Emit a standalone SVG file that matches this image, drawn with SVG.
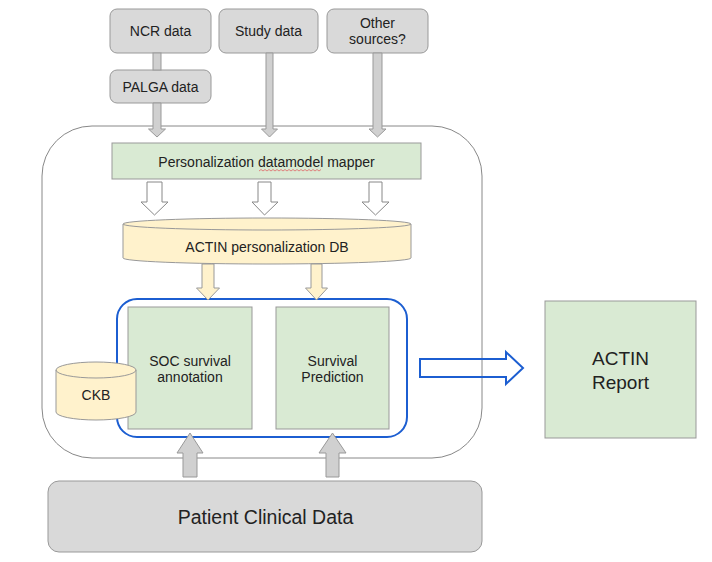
<svg xmlns="http://www.w3.org/2000/svg" width="712" height="562" viewBox="0 0 712 562">
<style>
text{font-family:"Liberation Sans",Arial,sans-serif;fill:#222;text-anchor:middle}
.s{font-size:14px}
.l{font-size:19.5px}
.src{fill:#d9d9d9;stroke:#999;stroke-width:1}
.grn{fill:#d9ead3;stroke:#999;stroke-width:1}
.db{fill:#fff2cc;stroke:#999;stroke-width:1}
.garr{fill:#d0d0d0;stroke:#999;stroke-width:1}
.warr{fill:#fff;stroke:#888;stroke-width:1}
.yarr{fill:#fff2cc;stroke:#999;stroke-width:1}
</style>
<rect width="712" height="562" fill="#fff"/>
<g id="platform"><rect x="42" y="126" width="440" height="332" rx="50" ry="50" fill="none" stroke="#888" stroke-width="1"/></g>
<g id="ncr"><rect class="src" x="110" y="9" width="101" height="44" rx="7"/><text class="s" x="160.5" y="36">NCR data</text></g>
<g id="study"><rect class="src" x="219" y="9" width="99" height="44" rx="7"/><text class="s" x="268.5" y="36">Study data</text></g>
<g id="other"><rect class="src" x="327" y="9" width="101" height="44" rx="7"/><text class="s" x="377.5" y="28">Other</text><text class="s" x="377.5" y="44">sources?</text></g>
<g id="palga"><rect class="src" x="110" y="70" width="101" height="33" rx="7"/><text class="s" x="160.5" y="91.5">PALGA data</text></g>
<g id="mapper"><rect class="grn" x="112" y="143" width="309" height="36"/><text class="s" x="266.5" y="166.5">Personalization datamodel mapper</text>
<path d="M259 171 l2 -1.5 l2 1.5 l2 -1.5 l2 1.5 l2 -1.5 l2 1.5 l2 -1.5 l2 1.5 l2 -1.5 l2 1.5 l2 -1.5 l2 1.5 l2 -1.5 l2 1.5 l2 -1.5 l2 1.5 l2 -1.5 l2 1.5 l2 -1.5 l2 1.5 l2 -1.5 l2 1.5 l2 -1.5 l2 1.5 l2 -1.5 l2 1.5 l2 -1.5 l2 1.5 l2 -1.5 l2 1.5 l2 -1.5" fill="none" stroke="#e06666" stroke-width="0.8"/></g>
<g id="actindb"><path class="db" d="M123 224 A144 6 0 0 1 411 224 L411 258 A144 6 0 0 1 123 258 Z"/><path d="M123 224 A144 6 0 0 0 411 224" fill="none" stroke="#999"/><text class="s" x="267" y="252">ACTIN personalization DB</text></g>
<g id="module"><rect x="117" y="299" width="290" height="138" rx="20" fill="none" stroke="#1c5ed1" stroke-width="2"/></g>
<g id="soc"><rect class="grn" x="128" y="307" width="124" height="122"/><text class="s" x="190" y="366">SOC survival</text><text class="s" x="190" y="382">annotation</text></g>
<g id="surv"><rect class="grn" x="276" y="307" width="113" height="122"/><text class="s" x="332.5" y="366">Survival</text><text class="s" x="332.5" y="382">Prediction</text></g>
<g id="ckb"><path class="db" d="M56 370 A40 8 0 0 1 136 370 L136 412 A40 8 0 0 1 56 412 Z"/><path d="M56 370 A40 8 0 0 0 136 370" fill="none" stroke="#999"/><text class="s" x="96" y="400">CKB</text></g>
<g id="report"><rect class="grn" x="545" y="301" width="151" height="137"/><text x="620.5" y="365" style="font-size:19px">ACTIN</text><text x="620.5" y="389" style="font-size:19px">Report</text></g>
<g id="patient"><rect class="src" x="48" y="481" width="434" height="71" rx="11"/><text class="l" x="265.5" y="524">Patient Clinical Data</text></g>
<g id="connectors">
<rect class="garr" x="153" y="53" width="8" height="17"/>
<polygon class="garr" points="153,103 161,103 161,129 165.5,129 157,137 148.5,129 153,129"/>
<polygon class="garr" points="266,53 273,53 273,129 277.5,129 269.5,137 261.5,129 266,129"/>
<polygon class="garr" points="373,53 382,53 382,129 386,129 377.5,137 369,129 373,129"/>
<polygon class="warr" points="147,182 162,182 162,202 168,202 154.5,215 141,202 147,202"/>
<polygon class="warr" points="258,182 271,182 271,202 278,202 264.5,215 252,202 258,202"/>
<polygon class="warr" points="369,182 382,182 382,202 389,202 375.5,215 362,202 369,202"/>
<polygon class="yarr" points="202,264 214,264 214,288 219.5,288 208,300 196.5,288 202,288"/>
<polygon class="yarr" points="311,264 322,264 322,288 327.5,288 316.5,300 305.5,288 311,288"/>
<polygon class="garr" points="183,477 183,453 177,453 190,433 203,453 197,453 197,477"/>
<polygon class="garr" points="326,477 326,453 319,453 332.5,433 346,453 339,453 339,477"/>
<polygon points="420,359 506,359 506,352 523,368 506,384 506,377 420,377" fill="none" stroke="#1c5ed1" stroke-width="2"/>
</g>
</svg>
